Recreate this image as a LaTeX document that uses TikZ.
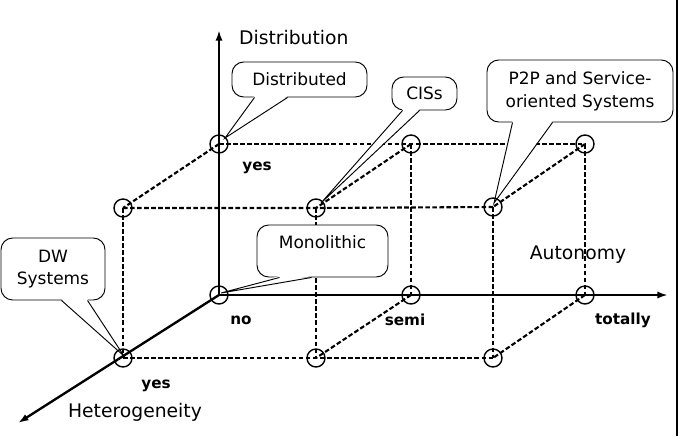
\documentclass[tikz,border=0pt]{standalone}
\usepackage{fontspec}
\setmainfont{DejaVu Sans}
\usepackage{tikz}
\usetikzlibrary{arrows.meta,calc}

\newcommand{\bubbletail}[4]{%
  \fill[white] ($(#1.south west)+(#2,-1.5)$) -- (#4) -- ($(#1.south west)+(#3,-1.5)$) -- cycle;
  \draw[line width=0.8pt] ($(#1.south west)+(#2,0)$) -- (#4) -- ($(#1.south west)+(#3,0)$);}

\begin{document}
\begin{tikzpicture}[x=0.03cm, y=-0.03cm,
  cubeline/.style={line width=1.8pt, dash pattern=on 4pt off 2pt},
  axisline/.style={line width=2pt, -{Latex[length=9pt,width=6pt]}},
  ring/.style={line width=1.2pt},
  bubble/.style={draw, line width=0.8pt, rounded corners=10pt, fill=white,
    align=center, inner sep=0pt, font=\fontsize{14.5}{19.5}\selectfont},
  axislabel/.style={font=\fontsize{16}{19}\selectfont},
  val/.style={font=\bfseries\fontsize{13}{15}\selectfont}]
  \useasboundingbox (0,0) rectangle (682,436);

  % corners of the cube
  \coordinate (o) at (219,295);   \coordinate (d) at (219,144);
  \coordinate (h) at (123,358);   \coordinate (dh) at (123,208);
  \coordinate (s) at (411,295);   \coordinate (sd) at (411,144);
  \coordinate (sh) at (316,358);  \coordinate (sdh) at (316,208);
  \coordinate (t) at (585,295);   \coordinate (td) at (585,144);
  \coordinate (th) at (493,358);  \coordinate (tdh) at (493,207);
  \coordinate (dtop) at (219,30);
  \coordinate (aend) at (668,295);
  \coordinate (hend) at (18,423);

  \draw[cubeline] (d) -- (sd) -- (td);
  \draw[cubeline] (dh) -- (sdh) -- (tdh);
  \draw[cubeline] (h) -- (sh) -- (th);
  \draw[cubeline] (dh) -- (h);
  \draw[cubeline] (sdh) -- (sh);
  \draw[cubeline] (tdh) -- (th);
  \draw[cubeline] (sd) -- (s);
  \draw[cubeline] (td) -- (t);

  % callouts
  \node[bubble, minimum width=4.05cm, minimum height=1.05cm] (distr) at (299.5,79.5) {Distributed};
  \node[bubble, minimum width=1.95cm, minimum height=0.99cm] (cis) at (424.5,93.5) {CISs};
  \node[bubble, minimum width=5.58cm, minimum height=1.86cm] (p2p) at (580,91) {P2P and Service-\\oriented Systems};
  \node[bubble, minimum width=3.93cm, minimum height=1.56cm, text depth=0.55cm] (mono) at (322.5,251) {Monolithic};
  \node[bubble, minimum width=3.12cm, minimum height=1.86cm] (dw) at (53,269) {DW\\Systems};
  \bubbletail{distr}{23}{56}{$(d)+(6,-6)$}
  \bubbletail{cis}{11}{28}{$(sdh)+(5,-5)$}
  \bubbletail{p2p}{26}{66}{$(tdh)+(1,-4)$}
  \bubbletail{mono}{23}{55}{$(o)+(2,-2)$}
  \bubbletail{dw}{61}{87}{$(h)+(1,-2)$}

  \draw[cubeline] (d) -- (dh);
  \draw[cubeline] (sd) -- (sdh);
  \draw[cubeline] (td) -- (tdh);
  \draw[cubeline] (s) -- (sh);
  \draw[cubeline] (t) -- (th);

  % axes
  \draw[axisline] (o) -- (dtop);
  \draw[axisline] (o) -- (aend);
  \draw[axisline] (o) -- (hend);

  \foreach \c in {o,d,h,dh,s,sd,sh,sdh,t,td,th,tdh}
    \draw[ring] (\c) circle[radius=0.27cm];

  \node[axislabel, anchor=west] (distlab) at (235,38) {Distribution};
  \node[axislabel] (autlab) at (578,255) {Autonomy};
  \node[axislabel] (hetlab) at (135,412) {Heterogeneity};
  \node[val] (dyes) at (257,168) {yes};
  \node[val] (ano) at (241,320) {no};
  \node[val] (asemi) at (405,320) {semi};
  \node[val] (atot) at (623,320) {totally};
  \node[val] (hyes) at (156,386) {yes};

  \draw[line width=1.5pt] (677,0) -- (677,436);
\end{tikzpicture}
\end{document}
